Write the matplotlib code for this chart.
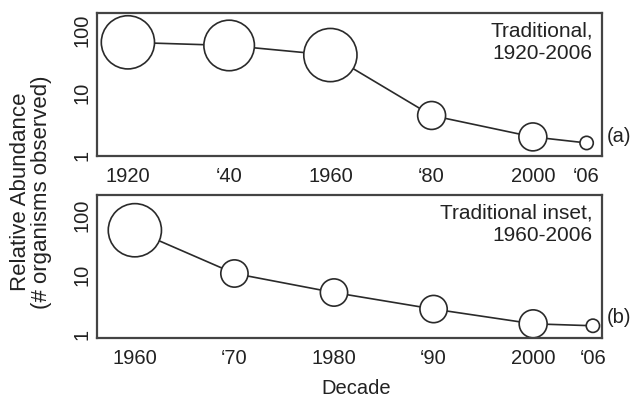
import matplotlib.pyplot as plt
import matplotlib.ticker as ticker
import numpy as np

plt.rcParams['font.family'] = ['Liberation Sans', 'DejaVu Sans']

# (a) traditional, 1920-2006
years_a = [1920, 1940, 1960, 1980, 2000, 2006]
abund_a = [64, 57, 40, 4.3, 1.95, 1.56]
weight_a = [4, 3.8, 4, 2.1, 2.1, 1]
ticks_a = ['1920', '\u201840', '1960', '\u201880', '2000', '\u201806']

# (b) traditional inset, 1960-2006
years_b = [1960, 1970, 1980, 1990, 2000, 2006]
abund_b = [56, 10.6, 5.1, 2.7, 1.53, 1.42]
weight_b = [4, 2.05, 2.05, 2.05, 2.1, 1]
ticks_b = ['1960', '\u201870', '1980', '\u201890', '2000', '\u201806']

edge = '#2a2a2a'


# the last 6 years are drawn wider on the upper panel
def fwd(x):
    x = np.asarray(x, dtype=float)
    return np.where(x > 2000, 2000 + (x - 2000) * 1.77, x)


def inv(x):
    x = np.asarray(x, dtype=float)
    return np.where(x > 2000, 2000 + (x - 2000) / 1.77, x)


def panel(ax, years, abund, weight, ticks, label, tag):
    ax.plot(years, abund, color=edge, lw=1.2, zorder=1)
    d = np.array(weight) * 13.3 * 0.72
    ax.scatter(years, abund, s=d ** 2, facecolor='white', edgecolor=edge,
               linewidth=1.2, zorder=2)
    ax.set_yscale('log')
    ax.set_yticks([1, 10, 100])
    ax.yaxis.set_major_formatter(ticker.FixedFormatter(['1', '10', '100']))
    ax.yaxis.set_minor_locator(ticker.NullLocator())
    ax.set_xticks(years)
    ax.set_xticklabels(ticks)
    ax.tick_params(axis='both', length=0, labelsize=14.5, colors='#222222')
    ax.tick_params(axis='x', pad=8)
    ax.tick_params(axis='y', pad=4)
    for t in ax.get_yticklabels():
        t.set_rotation(90)
        t.set_va('center')
    for s in ax.spines.values():
        s.set_linewidth(1.6)
        s.set_color('#444444')
    ax.text(0.982, 0.94, label, transform=ax.transAxes, ha='right', va='top',
            fontsize=15, linespacing=1.25, color='#222222')
    ax.text(1.01, 0.14, tag, transform=ax.transAxes, ha='left', va='center',
            fontsize=14.5, color='#222222')


fig = plt.figure(figsize=(6.35, 3.98), dpi=100)

ax1 = fig.add_axes([0.1528, 0.608, 0.795, 0.359])
ax1.set_xscale('function', functions=(fwd, inv))
panel(ax1, years_a, abund_a, weight_a, ticks_a, 'Traditional,\n1920-2006', '(a)')
ax1.set_xlim(1913.9, 2007.7)
ax1.set_ylim(0.963, 188)

ax2 = fig.add_axes([0.1528, 0.151, 0.795, 0.359])
panel(ax2, years_b, abund_b, weight_b, ticks_b, 'Traditional inset,\n1960-2006', '(b)')
ax2.set_xlim(1956.2, 2006.9)
ax2.set_ylim(0.89, 217)

fig.text(31 / 635, 1 - 192 / 398, 'Relative Abundance\n(# organisms observed)',
         rotation=90, ha='center', va='center', fontsize=16, linespacing=1.0,
         color='#222222')
fig.text(356 / 635, 1 - 388 / 398, 'Decade', ha='center', va='center',
         fontsize=14.5, color='#222222')

plt.savefig('out.png', dpi=100)
plt.close(fig)
